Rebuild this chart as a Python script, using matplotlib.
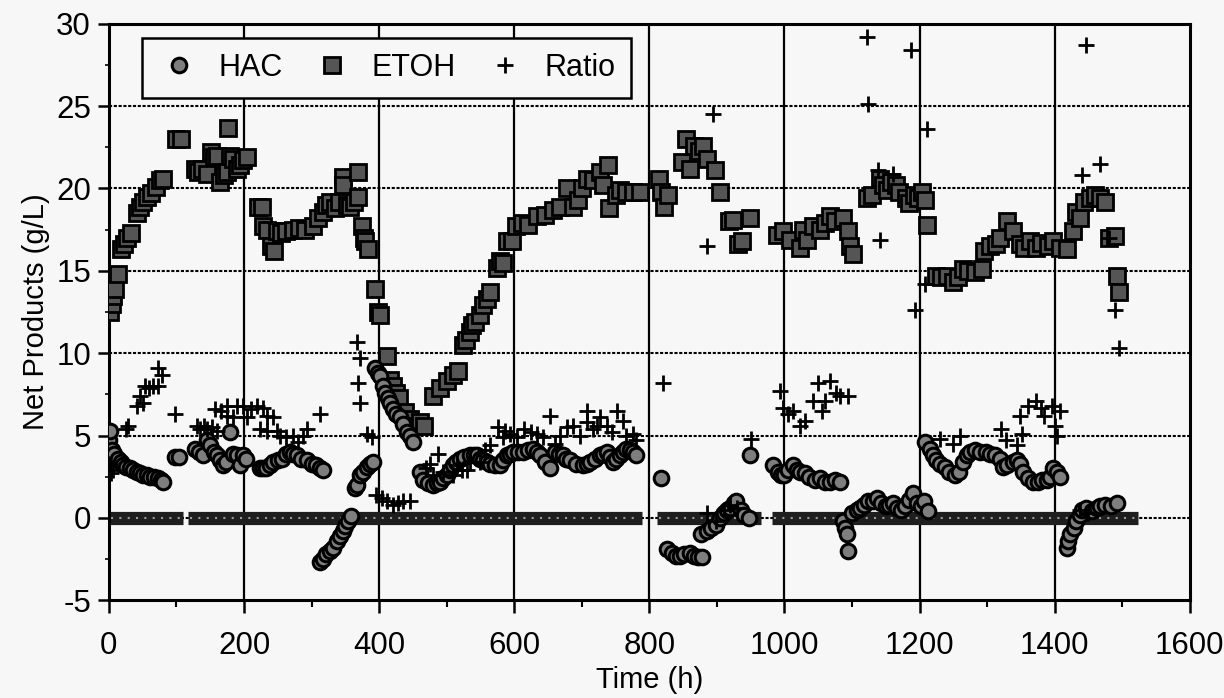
import matplotlib.pyplot as plt
from matplotlib.ticker import MultipleLocator

plt.rcParams['font.family'] = ['Liberation Sans', 'DejaVu Sans']
plt.rcParams['axes.unicode_minus'] = False

# acetic acid (HAC), g/L
hac_t = [0, 2, 4, 8, 13, 18, 21, 26, 31, 36, 41, 46, 50, 56, 61, 67, 73, 77, 80,
         98, 103,
         128, 133, 139, 145, 150, 155, 160, 165, 169, 174, 179, 184, 189, 194, 198, 203,
         223, 228, 233, 238, 243, 250, 256, 262, 268, 273, 278, 285, 293, 300, 307, 312, 317,
         312, 317, 322, 327, 332, 337, 342, 346, 349, 354, 359,
         364, 367, 371, 376, 382, 386, 391,
         394, 398, 401, 405, 409, 413, 416, 420, 425, 431, 436, 441, 445, 450,
         460, 465, 472, 480, 485, 490, 495, 500, 505, 509, 514, 519, 526, 534, 540, 545,
         550, 554, 559, 564, 571, 579, 584, 589, 594, 598, 606, 613, 620, 628, 633, 638,
         645, 653, 660, 666, 672, 677, 682, 692, 702, 707, 712, 720, 727, 732, 737, 742,
         746, 751, 756, 761, 766, 771, 776, 781,
         818,
         826, 833, 840, 845, 852, 860, 866, 872, 878,
         877, 885, 892, 899, 905, 910, 915, 919, 925, 929, 935, 940, 947,
         949,
         983, 990, 995, 1000, 1006, 1012, 1018, 1023, 1030, 1037, 1045, 1052, 1060, 1067,
         1075, 1082,
         1087, 1090, 1092, 1094,
         1100, 1107, 1112, 1118, 1124, 1131, 1137, 1143, 1150, 1155, 1160, 1166, 1172,
         1178, 1185, 1190, 1196, 1202, 1207, 1212,
         1208, 1215, 1220, 1225, 1230, 1237, 1244, 1252, 1258, 1265, 1270, 1274, 1282,
         1290, 1299, 1305, 1312, 1319, 1323, 1330, 1338, 1345, 1348, 1353, 1360, 1368,
         1375, 1382, 1388, 1393, 1397, 1403, 1408,
         1418, 1420, 1423, 1428, 1432, 1437, 1440, 1447, 1455, 1462, 1467, 1475, 1483, 1492]
hac_v = [4.7, 5.3, 4.1, 3.9, 3.6, 3.4, 3.2, 3.1, 3.0, 2.9, 2.8, 2.7, 2.6, 2.6, 2.5, 2.5, 2.4, 2.3, 2.2,
         3.7, 3.7,
         4.2, 4.0, 3.8, 4.7, 4.4, 4.0, 3.8, 3.5, 3.2, 3.4, 5.2, 3.9, 3.8, 3.2, 3.8, 3.6,
         3.0, 3.0, 3.0, 3.2, 3.4, 3.5, 3.6, 3.9, 4.0, 3.9, 3.8, 3.6, 3.5, 3.3, 3.2, 3.0, 2.9,
         -2.7, -2.5, -2.2, -2.0, -1.8, -1.4, -1.1, -0.8, -0.5, -0.2, 0.1,
         1.8, 2.0, 2.6, 2.8, 3.1, 3.3, 3.4,
         9.1, 8.8, 8.6, 8.0, 7.6, 7.3, 7.0, 6.6, 6.3, 6.1, 5.7, 5.2, 5.0, 4.6,
         2.8, 2.3, 2.1, 2.0, 2.1, 2.2, 2.4, 2.6, 2.9, 3.2, 3.4, 3.6, 3.7, 3.8, 3.8, 3.8,
         3.6, 3.5, 3.4, 3.3, 3.2, 3.2, 3.5, 3.8, 3.9, 4.0, 4.0, 4.0, 4.1, 4.2, 4.0, 3.8,
         3.4, 3.0, 4.0, 3.9, 3.8, 3.6, 3.5, 3.3, 3.2, 3.3, 3.4, 3.6, 3.8, 3.9, 4.0, 3.7,
         3.4, 3.6, 3.8, 4.0, 4.2, 4.1, 4.0, 3.8,
         2.4,
         -1.9, -2.1, -2.3, -2.3, -2.2, -2.1, -2.3, -2.4, -2.4,
         -1.0, -0.8, -0.6, -0.4, 0.0, 0.3, 0.5, 0.6, 0.9, 1.0, 0.5, 0.2, 0.0,
         3.8,
         3.2, 2.8, 2.6, 2.6, 2.9, 3.2, 2.9, 2.8, 2.7, 2.5, 2.3, 2.4, 2.2, 2.2,
         2.3, 2.2,
         -0.2, -0.6, -1.0, -2.0,
         0.3, 0.5, 0.6, 0.8, 1.0, 1.0, 1.2, 0.9, 0.7, 0.8, 0.9, 0.6, 0.5,
         0.7, 1.1, 1.5, 0.9, 0.7, 1.0, 0.4,
         4.6, 4.2, 3.8, 3.5, 3.3, 3.1, 2.8, 2.6, 2.8, 3.4, 3.8, 4.0, 4.1,
         4.0, 4.0, 3.9, 3.8, 3.6, 3.1, 3.2, 3.4, 3.5, 3.3, 2.8, 2.4, 2.2,
         2.2, 2.3, 2.3, 2.5, 3.0, 2.8, 2.5,
         -1.8, -1.4, -1.0, -0.6, -0.2, 0.2, 0.5, 0.6, 0.4, 0.6, 0.7, 0.8, 0.7, 0.9]

# ethanol (ETOH), g/L
etoh_t = [2, 4, 6, 9, 14, 18, 22, 27, 32, 41, 46, 50, 56, 63, 69, 75, 80,
          100, 106,
          127, 132, 138, 145, 151, 156, 160, 164, 170, 175, 176, 179, 184, 189, 194, 199, 204,
          221, 226, 228, 234, 240, 244, 249, 255, 262, 272, 281, 290, 302, 310, 317, 322,
          327, 335, 341, 347, 347, 352, 357, 363, 369, 369, 374, 377, 379, 384,
          394, 398, 402, 411, 416, 420, 425, 430, 438, 445, 450, 460, 466,
          480, 490, 500, 509, 517, 524, 529, 534, 538, 542, 549, 554, 559, 564, 574, 579,
          583, 589, 596, 603, 612, 620, 633, 645, 657, 668, 678, 687, 694, 700, 707, 716,
          727, 731, 739, 741, 750, 757, 766, 776, 786,
          815, 818, 822, 828, 849, 855, 860, 866, 873, 879, 885, 897, 904, 918, 924, 932,
          937, 949,
          989, 998, 1008, 1023, 1027, 1033, 1042, 1052, 1060, 1067, 1075, 1087, 1094,
          1097, 1101,
          1122, 1130, 1141, 1146, 1152, 1158, 1165, 1170, 1180, 1185, 1192, 1197, 1204,
          1208, 1211,
          1225, 1232, 1240, 1250, 1257, 1264, 1272, 1282, 1292, 1296, 1305, 1313, 1319,
          1329, 1338, 1348, 1355, 1363, 1372, 1380, 1390, 1398, 1408, 1418, 1427, 1432,
          1437, 1444, 1452, 1460, 1467, 1474, 1480, 1489, 1492, 1496]
etoh_v = [12.5, 13.0, 13.5, 13.9, 14.8, 16.3, 16.6, 17.0, 17.3, 18.5, 18.9, 19.2, 19.5, 19.7, 20.1, 20.5, 20.6,
          23.0, 23.0,
          21.2, 21.0, 21.2, 20.9, 22.2, 21.9, 22.0, 20.4, 20.8, 21.0, 23.7, 22.0, 21.8, 21.2, 21.4, 21.7, 21.9,
          18.9, 18.9, 17.7, 17.5, 16.5, 16.2, 17.4, 17.3, 17.4, 17.5, 17.6, 17.5, 17.7, 18.2, 18.6, 19.0,
          19.2, 18.8, 19.2, 20.7, 20.2, 19.0, 18.9, 19.2, 21.0, 19.5, 17.7, 17.0, 16.8, 16.3,
          13.9, 12.5, 12.3, 9.8, 8.4, 8.0, 7.6, 7.3, 6.4, 6.0, 5.6, 5.8, 5.6,
          7.4, 7.9, 8.3, 8.7, 8.9, 10.5, 10.8, 11.3, 11.7, 11.9, 12.3, 12.9, 13.3, 13.7, 15.2, 15.6,
          15.5, 16.8, 16.8, 17.7, 17.9, 17.8, 18.3, 18.4, 18.7, 18.9, 20.0, 18.9, 19.3, 20.0, 20.6, 20.5,
          21.0, 20.2, 21.4, 18.8, 19.6, 19.9, 19.8, 19.8, 19.8,
          20.6, 19.8, 18.9, 19.6, 21.6, 23.0, 21.2, 22.6, 22.3, 22.6, 21.8, 21.1, 19.8, 18.0, 18.1, 16.6,
          16.8, 18.2,
          17.2, 17.4, 16.9, 16.4, 17.5, 16.9, 17.7, 17.5, 17.9, 18.3, 18.0, 18.2, 17.4,
          16.5, 16.0,
          19.4, 19.6, 20.6, 20.2, 19.9, 20.4, 20.2, 19.8, 19.4, 19.1, 19.6, 19.4, 19.8,
          19.3, 17.8,
          14.7, 14.6, 14.7, 14.3, 14.6, 15.1, 15.0, 14.9, 15.1, 16.2, 16.5, 16.6, 17.0,
          18.0, 17.4, 16.6, 16.4, 16.8, 16.4, 16.7, 16.5, 16.8, 16.4, 16.3, 17.4, 18.6,
          18.2, 19.2, 19.4, 19.6, 19.4, 19.2, 17.0, 17.1, 14.7, 13.7]

# runs of zero ETOH readings (start, end in h)
etoh_zero_runs = [(0, 110), (117, 789), (811, 966), (981, 1523)]

# ETOH/HAC ratio
ratio_t = [1, 3, 6, 25, 28, 41, 46, 50, 53, 60, 65, 73, 78, 73, 98,
           130, 135, 140, 145, 152, 157, 160, 166, 175, 175, 184, 189, 198, 204, 210, 219,
           223, 228, 234, 234, 243, 249, 253, 262, 272, 280, 287, 293, 312,
           367, 371, 368, 371, 382, 390, 396, 404, 411, 420, 428, 435, 445,
           470, 475, 480, 487, 495, 509, 515, 522, 530, 534, 549, 556, 564, 576, 583, 586,
           593, 604, 615, 625, 633, 642, 653, 660, 668, 678, 687, 697, 707, 707, 716, 722,
           727, 737, 745, 752, 761, 766, 776, 781,
           820, 886, 894, 885, 898, 910, 920, 930, 951,
           993, 998, 1005, 1013, 1023, 1030, 1042, 1049, 1055, 1060, 1067, 1077, 1082, 1094,
           1122, 1123, 1138, 1141, 1160, 1188, 1193, 1208, 1211,
           1230, 1250, 1260, 1321, 1328, 1345, 1351, 1348, 1360, 1373, 1380, 1385, 1396,
           1400, 1403, 1408,
           1441, 1447, 1467, 1481, 1489, 1496, 1437, 1450]
ratio_v = [3.3, 2.7, 2.9, 5.4, 5.6, 6.8, 7.4, 7.0, 8.0, 7.9, 8.0, 9.1, 8.7, 8.0, 6.3,
           5.6, 5.4, 5.6, 5.4, 5.5, 6.6, 5.3, 6.5, 6.8, 6.2, 6.1, 6.8, 6.8, 6.1, 6.6, 6.8,
           5.4, 6.7, 6.2, 5.3, 6.1, 5.3, 5.0, 4.9, 5.0, 4.6, 5.0, 5.4, 6.3,
           10.7, 9.7, 8.2, 7.0, 5.1, 4.9, 1.4, 1.2, 1.0, 0.8, 0.9, 1.0, 1.0,
           3.0, 3.3, 2.6, 3.9, 2.8, 2.6, 3.2, 2.9, 2.9, 3.4, 3.4, 4.1, 4.4, 5.5, 4.9, 5.3,
           5.1, 4.9, 5.4, 5.2, 5.1, 4.9, 6.2, 4.5, 5.0, 5.5, 5.6, 5.0, 6.5, 5.8, 5.4, 5.6,
           6.1, 5.6, 5.2, 6.5, 5.9, 5.0, 5.1, 4.7,
           8.2, 16.5, 24.5, 0.3, -0.2, 0.5, 0.8, 0.6, 4.8,
           7.7, 6.7, 6.3, 6.5, 5.6, 5.9, 7.1, 8.2, 6.5, 7.1, 8.3, 7.6, 7.4, 7.4,
           29.2, 25.1, 21.1, 16.9, 20.9, 28.4, 12.6, 14.2, 23.6,
           4.8, 4.5, 5.0, 5.4, 4.7, 4.4, 5.1, 6.2, 6.8, 7.1, 6.7, 6.2, 6.8,
           5.6, 5.0, 6.5,
           20.8, 28.7, 21.5, 17.0, 12.6, 10.3, 0.5, 0.3]

bg = '#f7f7f7'
fig, ax = plt.subplots(figsize=(12.24, 6.98), dpi=100, facecolor=bg)
ax.set_facecolor(bg)
fig.subplots_adjust(left=0.089, right=0.972, top=0.966, bottom=0.14)

# grid: solid verticals, dotted horizontals
for gx in range(200, 1600, 200):
    ax.axvline(gx, color='black', lw=1.6, zorder=1)
for gy in range(0, 30, 5):
    ax.axhline(gy, color='black', lw=1.5, ls=(0, (1.5, 0.8)), zorder=1)

# zero readings overlap into a solid band; light speckle inside it
ax.hlines([0] * len(etoh_zero_runs), [r[0] for r in etoh_zero_runs],
          [r[1] for r in etoh_zero_runs], color='#1e1e1e', lw=9.5, zorder=2)
ax.hlines([0] * len(etoh_zero_runs), [r[0] + 3 for r in etoh_zero_runs],
          [r[1] - 3 for r in etoh_zero_runs], color='#9a9a9a', lw=1.5,
          ls=(0, (1, 3)), zorder=2)

ax.plot(etoh_t, etoh_v, ls='none', marker='s', ms=11, mfc='#555555', mec='black',
        mew=2.0, zorder=3, label='ETOH')
ax.plot(hac_t, hac_v, ls='none', marker='o', ms=10.5, mfc='#7e7e7e', mec='black',
        mew=2.2, zorder=4, label='HAC')
ax.plot(ratio_t, ratio_v, ls='none', marker='+', ms=12, mec='black', mew=2.0,
        zorder=5, label='Ratio')

ax.set_xlim(0, 1600)
ax.set_ylim(-5, 30)
ax.xaxis.set_major_locator(MultipleLocator(200))
ax.xaxis.set_minor_locator(MultipleLocator(100))
ax.yaxis.set_major_locator(MultipleLocator(5))
ax.yaxis.set_minor_locator(MultipleLocator(2.5))
ax.tick_params(axis='x', which='major', direction='out', length=9, width=1.8,
               pad=13, labelsize=22.5)
ax.tick_params(axis='x', which='minor', direction='out', length=5, width=1.5)
ax.tick_params(axis='y', which='major', direction='out', length=8, width=1.8,
               pad=5, labelsize=22.5)
ax.tick_params(axis='y', which='minor', direction='out', length=3, width=1.2)
for sp in ax.spines.values():
    sp.set_linewidth(2.2)

ax.set_xlabel('Time (h)', fontsize=21, labelpad=4)
ax.set_ylabel('Net Products (g/L)', fontsize=21, labelpad=4)

handles, labels = ax.get_legend_handles_labels()
order = [1, 0, 2]
leg = ax.legend([handles[i] for i in order], [labels[i] for i in order],
                ncol=3, loc='upper left', bbox_to_anchor=(0.031, 0.976),
                borderaxespad=0, fontsize=22, frameon=True, fancybox=False,
                framealpha=1, edgecolor='black', facecolor=bg, borderpad=0.5,
                handletextpad=0.6, columnspacing=0.9, handlelength=1.4)
leg.get_frame().set_linewidth(1.8)

fig.savefig('out.png', dpi=100, facecolor=bg)
